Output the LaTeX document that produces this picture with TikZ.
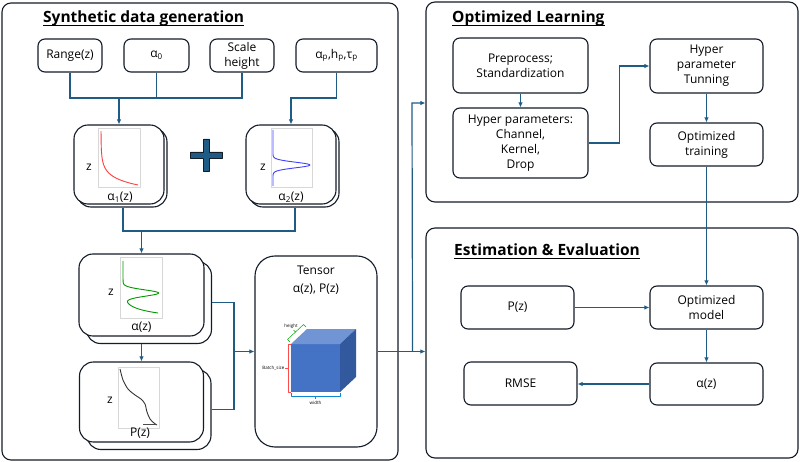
\documentclass[tikz,border=0pt]{standalone}
\usepackage{fontspec}
\setmainfont{Open Sans}
\usetikzlibrary{arrows.meta,shadows}
\definecolor{wireblue}{RGB}{31,92,133}
\definecolor{edge}{RGB}{20,28,40}
\definecolor{cubefront}{RGB}{68,114,196}
\definecolor{cubetop}{RGB}{112,148,212}
\definecolor{cubeside}{RGB}{50,88,158}
\definecolor{plotframe}{RGB}{215,215,215}

\tikzset{
  panel/.style={draw=edge,line width=1.1pt,rounded corners=9pt,fill=white},
  box/.style={draw=edge,line width=1.1pt,rounded corners=7pt,fill=white,
    align=center,inner sep=0pt},
  plotbox/.style={box,rounded corners=14pt,
    copy shadow={shadow xshift=#1,shadow yshift=-#1}},
  ptitle/.style={anchor=base west,inner sep=0pt,
    font=\fontsize{15.5}{18}\selectfont\bfseries},
  uline/.style={draw=black,line width=1.2pt},
  link/.style={draw=wireblue,line width=1.2pt,line join=miter},
  tiny/.style={font=\fontsize{4.5}{5}\selectfont,inner sep=0.5pt}
}

\begin{document}
\begin{tikzpicture}[x=1pt,y=1pt,line join=round,>={Latex[length=5pt,width=4.5pt]},
  font=\fontsize{12}{15}\selectfont]
  \useasboundingbox (0,0) rectangle (800,-462);

  % panels
  \node[panel,minimum width=396pt,minimum height=457pt] (synp) at (200,-231.5) {};
  \node[panel,minimum width=372pt,minimum height=200pt] (olp) at (612,-102) {};
  \node[panel,minimum width=372pt,minimum height=230pt] (eep) at (612,-343) {};
  \node[ptitle] (syntitle) at (43,-22.5) {Synthetic data generation};
  \node[ptitle] (oltitle) at (452,-22.5) {Optimized Learning};
  \node[ptitle] (eetitle) at (454,-255.5) {Estimation \& Evaluation};
  \draw[uline] ([yshift=-3pt]syntitle.base west) -- ([yshift=-3pt]syntitle.base east);
  \draw[uline] ([yshift=-3pt]oltitle.base west) -- ([yshift=-3pt]oltitle.base east);
  \draw[uline] ([yshift=-3pt]eetitle.base west) -- ([yshift=-3pt]eetitle.base east);

  % inputs
  \node[box,minimum width=64pt,minimum height=33pt] (rng) at (70,-55.5) {Range(z)};
  \node[box,minimum width=65pt,minimum height=33pt] (a0) at (156.5,-55.5) {α\textsubscript{0}};
  \node[box,minimum width=64pt,minimum height=33pt] (scl) at (242,-55.5) {Scale\\height};
  \node[box,minimum width=81pt,minimum height=33pt] (apar) at (336.5,-55.5)
    {α\textsubscript{p},h\textsubscript{p},τ\textsubscript{p}};

  % profile boxes
  \node[plotbox=3pt,minimum width=90pt,minimum height=79pt] (a1) at (119,-164.5) {};
  \node[plotbox=3pt,minimum width=90pt,minimum height=79pt] (a2) at (291,-164.5) {};
  \node[plotbox=7.5pt,minimum width=125pt,minimum height=82pt] (az) at (141.5,-295) {};
  \node[plotbox=7.5pt,minimum width=124pt,minimum height=80pt] (pz) at (141.5,-402) {};

  % alpha_1
  \draw[plotframe] (98,-128) rectangle (140,-187);
  \draw[red!75,line width=0.9pt] plot[domain=0:1,samples=50,smooth]
    ({101+37*exp(-7*\x)},{-185+54*\x});
  \node (a1z) at (89,-167) {z};
  \node (a1lab) at (120,-197) {α\textsubscript{1}(z)};

  % alpha_2
  \draw[plotframe] (271,-128) rectangle (312,-187);
  \draw[blue!75,line width=0.9pt] plot[domain=130:186,samples=90,smooth]
    ({273+37*exp(-((\x-165)/4)^2)},{-\x});
  \node (a2z) at (263,-167) {z};
  \node (a2lab) at (291,-197) {α\textsubscript{2}(z)};

  % plus sign
  \filldraw[fill=wireblue,draw=edge,line width=0.8pt]
    (203.5,-139) -- (209.5,-139) -- (209.5,-152) -- (222.5,-152) -- (222.5,-158)
    -- (209.5,-158) -- (209.5,-171) -- (203.5,-171) -- (203.5,-158) -- (190.5,-158)
    -- (190.5,-152) -- (203.5,-152) -- cycle;

  % alpha(z)
  \draw[plotframe] (120,-257) rectangle (162,-318);
  \draw[green!60!black,line width=0.9pt] plot[domain=261:313,samples=100,smooth]
    ({123+35*exp(-(313-\x)/5)+35*exp(-((\x-293)/4.5)^2)},{-\x});
  \node (azz) at (111,-292) {z};
  \node (azlab) at (141.5,-327) {α(z)};

  % P(z)
  \draw[plotframe] (118,-367) rectangle (159,-428);
  \draw[black!80,line width=0.9pt] plot[smooth] coordinates {(120,-369) (123,-380)
    (128,-389) (135,-395) (141,-399) (145,-404) (147,-412) (150,-419) (154,-423) (157,-425)};
  \draw[black!70,line width=1.4pt] (143,-424.5) -- (157,-424.5);
  \node (pzz) at (110,-400) {z};
  \node (pzlab) at (140,-433) {P(z)};

  % tensor
  \node[box,rounded corners=20pt,minimum width=122pt,minimum height=191pt] (ten) at (316,-351.5) {};
  \node[align=center,font=\fontsize{12}{18}\selectfont] (tentxt) at (316,-280) {Tensor\\α(z), P(z)};
  \fill[cubefront] (291,-344) rectangle (340,-392);
  \fill[cubetop] (291,-344) -- (307,-329) -- (356,-329) -- (340,-344) -- cycle;
  \fill[cubeside] (340,-344) -- (356,-329) -- (356,-377) -- (340,-392) -- cycle;
  \draw[red!70,line width=0.5pt] (291,-344) -- (288,-344) -- (288,-392) -- (291,-392)
    (288,-368) -- (285,-368);
  \node[tiny,anchor=east] (bsz) at (285,-368) {Batch\_size};
  \draw[green!65!black,line width=0.5pt] (290,-342) -- (287.5,-339.5) -- (303.5,-324.5)
    -- (306,-327) (295.5,-332) -- (293.5,-330);
  \node[tiny,anchor=south] (hgt) at (291,-329) {height};
  \draw[cyan!70!blue,line width=0.5pt] (291,-393) -- (291,-396) -- (340,-396) -- (340,-393)
    (315.5,-396) -- (315.5,-399);
  \node[tiny,anchor=north] (wdt) at (315.5,-400) {width};

  % optimized learning
  \node[box,minimum width=135pt,minimum height=55pt] (prep) at (520.5,-65.5) {Preprocess;\\Standardization};
  \node[box,minimum width=135pt,minimum height=70pt] (hyp) at (520.5,-143) {Hyper parameters:\\Channel,\\Kernel,\\Drop};
  \node[box,minimum width=113pt,minimum height=54pt] (tun) at (706.5,-66) {Hyper\\parameter\\Tunning};
  \node[box,minimum width=113pt,minimum height=43pt] (otr) at (706.5,-144.5) {Optimized\\training};

  % estimation
  \node[box,minimum width=113pt,minimum height=43pt] (pzin) at (517.5,-307.5) {P(z)};
  \node[box,minimum width=113pt,minimum height=43pt] (om) at (706.5,-307.5) {Optimized\\model};
  \node[box,minimum width=113pt,minimum height=42pt] (aout) at (706.5,-384) {α(z)};
  \node[box,minimum width=113pt,minimum height=43pt] (rmse) at (520.5,-383.5) {RMSE};

  % connectors
  \coordinate (j1) at (119,-98);
  \coordinate (j2) at (291,-98);
  \coordinate (j3) at (141.5,-231);
  \coordinate (j4) at (234,-351.5);
  \draw[link] (rng.south) |- (scl.south |- j1) -- (scl.south);
  \draw[link] (a0.south) -- (a0.south |- j1);
  \draw[link,->] (j1) -- (a1.north);
  \draw[link,->] (apar.south) |- (j2) -- (a2.north);
  \draw[link] ([shift={(4,-3)}]a1.south) |- (j3) -| ([shift={(4,-3)}]a2.south);
  \draw[link,->] (j3) -- (az.north);
  \draw[link,->] ([yshift=-7.5pt]az.south) -- (pz.north);
  \draw[link] ([shift={(7.5,-7.5)}]az.east) -| (j4) |- ([shift={(7.5,-7.5)}]pz.east);
  \draw[link,->] (j4) -- (ten.west);
  \path (ten.east) ++(35,0) coordinate (split);
  \coordinate (olin) at (412,-103);
  \draw[link,->] (ten.east) -- (ten.east -| eep.west);
  \draw[link,->] (split) -- (olin) -- (olin -| olp.west);
  \draw[link,->] (prep.south) -- (hyp.north);
  \draw[link,->] (hyp.east) -- ++(31,0) |- (tun.west);
  \draw[link,->] (tun.south) -- (otr.north);
  \draw[link,->] (otr.south) -- (om.north);
  \draw[link,->] (pzin.east) -- (om.west);
  \draw[link,->] (om.south) -- (aout.north);
  \draw[link,->] (aout.west) -- (aout.west -| rmse.east);
\end{tikzpicture}
\end{document}
